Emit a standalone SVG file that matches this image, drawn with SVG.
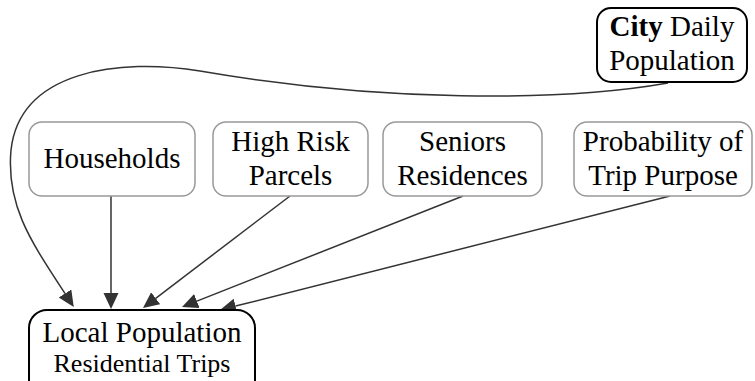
<svg xmlns="http://www.w3.org/2000/svg" width="755" height="381" viewBox="0 0 755 381">
<style>
text{font-family:'Liberation Serif','Times New Roman',serif;font-size:29px;fill:#000;text-anchor:middle}
.g{fill:#fff;stroke:#999;stroke-width:1.5}
.k{fill:#fff;stroke:#000;stroke-width:2}
.e{fill:none;stroke:#333;stroke-width:1.5}
.s{font-size:26px}
</style>
<defs>
<marker id="a" markerUnits="userSpaceOnUse" markerWidth="18" markerHeight="16" refX="0" refY="7.5" orient="auto">
<path d="M0,0 L16,7.5 L0,15 z" fill="#333"/>
</marker>
</defs>
<g id="connectors">
<path class="e" marker-end="url(#a)" d="M668,83 C560,102 380,102 200,71 C120,58 20,70 11,150 C6,205 30,240 65,293.5"/>
<path class="e" marker-end="url(#a)" d="M111,196 L111,293"/>
<path class="e" marker-end="url(#a)" d="M290,196 L155.7,298.3"/>
<path class="e" marker-end="url(#a)" d="M463,196 L196.9,301.1"/>
<path class="e" marker-end="url(#a)" d="M670,196 L235.5,306.1"/>
</g>
<g id="city">
<rect class="k" x="597" y="8" width="150" height="74" rx="14"/>
<text x="672" y="36"><tspan font-weight="bold">City</tspan> Daily</text>
<text x="672" y="70">Population</text>
</g>
<g id="households">
<rect class="g" x="29" y="122" width="166" height="74" rx="13"/>
<text x="112" y="168">Households</text>
</g>
<g id="highrisk">
<rect class="g" x="213" y="122" width="155" height="74" rx="13"/>
<text x="290.5" y="151">High Risk</text>
<text x="290.5" y="185">Parcels</text>
</g>
<g id="seniors">
<rect class="g" x="383" y="122" width="159" height="74" rx="13"/>
<text x="462.5" y="151">Seniors</text>
<text x="462.5" y="185">Residences</text>
</g>
<g id="probability">
<rect class="g" x="574" y="122" width="178" height="74" rx="13"/>
<text x="663" y="151">Probability of</text>
<text x="663" y="185">Trip Purpose</text>
</g>
<g id="local">
<rect class="k" x="29" y="310" width="226" height="90" rx="18"/>
<text x="142" y="342">Local Population</text>
<text class="s" x="142" y="372">Residential Trips</text>
</g>
</svg>
